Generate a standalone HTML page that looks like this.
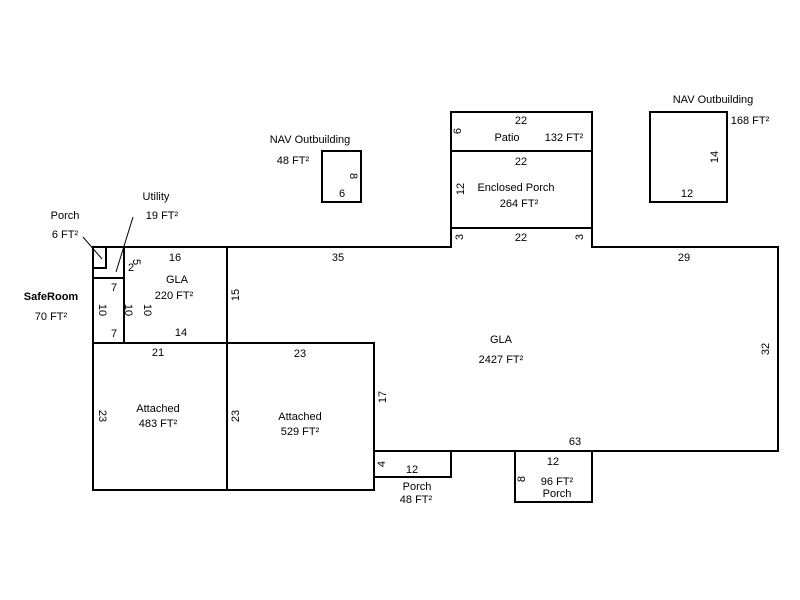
<!DOCTYPE html>
<html><head><style>body{margin:0;background:#fff}svg{display:block}text{font-family:"Liberation Sans",sans-serif;font-size:11px;fill:#000}</style></head><body>
<svg width="800" height="600" xmlns="http://www.w3.org/2000/svg">
<g fill="none" stroke="#000" stroke-width="2">
<polygon points="227,247 451,247 451,228 592,228 592,247 778,247 778,451 374,451 374,343 227,343"/>
<rect x="451" y="151" width="141" height="77"/>
<rect x="451" y="112" width="141" height="39"/>
<rect x="322" y="151" width="39" height="51"/>
<rect x="650" y="112" width="77" height="90"/>
<rect x="93" y="247" width="134" height="96"/>
<rect x="93" y="278" width="31" height="65"/>
<line x1="124" y1="247" x2="124" y2="278"/>
<polyline points="93,268 106,268 106,247"/>
<rect x="93" y="343" width="134" height="147"/>
<rect x="227" y="343" width="147" height="147"/>
<rect x="374" y="451" width="77" height="26"/>
<rect x="515" y="451" width="77" height="51"/>
</g>
<g stroke="#000" stroke-width="1"><line x1="83" y1="237" x2="102" y2="259"/><line x1="133" y1="217" x2="116" y2="272"/></g>
<g text-anchor="middle">
<text x="521" y="124">22</text><text x="507" y="141">Patio</text><text x="564" y="141">132 FT²</text>
<text x="521" y="165">22</text><text x="516" y="191">Enclosed Porch</text><text x="519" y="207">264 FT²</text>
<text x="521" y="241">22</text>
<text x="310" y="143">NAV Outbuilding</text><text x="293" y="164">48 FT²</text><text x="342" y="197">6</text>
<text x="713" y="103">NAV Outbuilding</text><text x="750" y="124">168 FT²</text><text x="687" y="197">12</text>
<text x="65" y="219">Porch</text><text x="65" y="238">6 FT²</text>
<text x="156" y="200">Utility</text><text x="162" y="219">19 FT²</text>
<text x="51" y="300" font-weight="bold">SafeRoom</text><text x="51" y="320">70 FT²</text>
<text x="175" y="261">16</text><text x="177" y="283">GLA</text><text x="174" y="299">220 FT²</text>
<text x="114" y="291">7</text><text x="114" y="337">7</text><text x="181" y="336">14</text>
<text x="338" y="261">35</text><text x="684" y="261">29</text>
<text x="501" y="343">GLA</text><text x="501" y="363">2427 FT²</text>
<text x="158" y="356">21</text><text x="300" y="357">23</text>
<text x="158" y="412">Attached</text><text x="158" y="427">483 FT²</text>
<text x="300" y="420">Attached</text><text x="300" y="435">529 FT²</text>
<text x="575" y="445">63</text>
<text x="412" y="473">12</text><text x="417" y="490">Porch</text><text x="416" y="503">48 FT²</text>
<text x="553" y="465">12</text><text x="557" y="485">96 FT²</text><text x="557" y="497">Porch</text>
<text x="131" y="271" font-size="10">2</text>
</g>
<g text-anchor="middle" dominant-baseline="central">
<text transform="translate(458,131) rotate(-90)">6</text>
<text transform="translate(461,189) rotate(-90)">12</text>
<text transform="translate(460,237) rotate(-90)">3</text>
<text transform="translate(580,237) rotate(-90)">3</text>
<text transform="translate(353,176) rotate(90)">8</text>
<text transform="translate(715,157) rotate(-90)">14</text>
<text transform="translate(236,295) rotate(-90)">15</text>
<text transform="translate(102,310) rotate(90)">10</text>
<text transform="translate(128,310) rotate(90)">10</text>
<text transform="translate(147,310) rotate(90)">10</text>
<text transform="translate(102,416) rotate(90)">23</text>
<text transform="translate(236,416) rotate(-90)">23</text>
<text transform="translate(383,397) rotate(-90)">17</text>
<text transform="translate(766,349) rotate(-90)">32</text>
<text transform="translate(382,464) rotate(-90)">4</text>
<text transform="translate(522,479) rotate(-90)">8</text>
<text transform="translate(136,262) rotate(90)" font-size="8">5</text>
</g>
</svg>
</body></html>
